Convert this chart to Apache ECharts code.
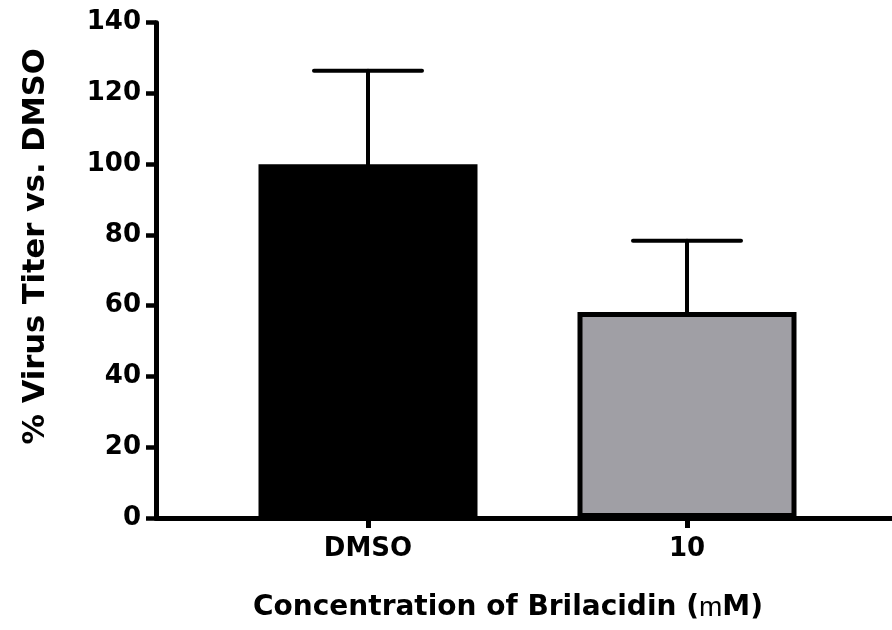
<!DOCTYPE html>
<html>
<head>
<meta charset="utf-8">
<script src="https://cdn.jsdelivr.net/npm/echarts@6/dist/echarts.min.js"></script>
<style>html,body{margin:0;padding:0;background:#fff;}#c{width:892px;height:630px;}</style>
</head>
<body>
<div id="c"></div>
<script>
const categories = ['DMSO', '10'];
const means = [100, 58.2];
const errors = [26.4, 20.2];
const barColors = ['#000000', '#A09FA5'];
const yTicks = {min: 0, max: 140, interval: 20};

const FONT = "'DejaVu Sans', 'Liberation Sans', Arial, sans-serif";
const chart = echarts.init(document.getElementById('c'), null, {renderer: 'canvas'});

const option = {
  backgroundColor: '#ffffff',
  animation: false,
  grid: [
    {left: 208.5, right: 45.5, top: 22.7, bottom: 112},
    {left: 156, right: 0, top: 22.7, bottom: 112}
  ],
  xAxis: [
    {
      type: 'category', gridIndex: 0, data: categories,
      axisLine: {show: false},
      axisTick: {show: true, alignWithLabel: true, length: 10, lineStyle: {width: 5, color: '#000'}},
      axisLabel: {margin: 18, color: '#000', fontSize: 26, fontWeight: 'bold', fontFamily: FONT},
      splitLine: {show: false}
    },
    {
      type: 'value', gridIndex: 1, min: 0, max: 1,
      axisLine: {show: true, lineStyle: {width: 5, color: '#000'}},
      axisTick: {show: false}, axisLabel: {show: false}, splitLine: {show: false},
      name: 'Concentration of Brilacidin ({m|m}M)',
      nameLocation: 'middle', nameGap: 76,
      nameTextStyle: {
        color: '#000', fontSize: 28, fontWeight: 'bold', fontFamily: FONT,
        padding: [0, 32, 0, 0],
        rich: {m: {fontSize: 28, fontWeight: 'normal', fontFamily: "'Liberation Sans', Arial, sans-serif", color: '#000'}}
      }
    }
  ],
  yAxis: [
    {
      type: 'value', gridIndex: 0, min: yTicks.min, max: yTicks.max, interval: yTicks.interval,
      offset: 52.5,
      axisLine: {show: true, lineStyle: {width: 5, color: '#000'}},
      axisTick: {show: true, length: 10, lineStyle: {width: 4.5, color: '#000'}},
      axisLabel: {margin: 15, color: '#000', fontSize: 26, fontWeight: 'bold', fontFamily: FONT},
      splitLine: {show: false},
      name: '% Virus Titer vs. DMSO',
      nameLocation: 'middle', nameGap: 104,
      nameTextStyle: {color: '#000', fontSize: 30.5, fontWeight: 'bold', fontFamily: FONT, padding: [0, 0, 0, 48]}
    },
    {
      type: 'value', gridIndex: 1, min: 0, max: 1, show: false
    }
  ],
  series: [
    {
      type: 'bar', xAxisIndex: 0, yAxisIndex: 0,
      barWidth: 219,
      data: means.map((v, i) => ({value: v, itemStyle: {color: barColors[i], borderColor: '#000', borderWidth: 5}})),
      z: 2
    },
    {
      type: 'custom', xAxisIndex: 0, yAxisIndex: 0, z: 3,
      data: means.map((v, i) => [i, v, v + errors[i]]),
      renderItem: function (params, api) {
        const base = api.coord([api.value(0), api.value(1)]);
        const top = api.coord([api.value(0), api.value(2)]);
        const half = 54;
        const style = {stroke: '#000', lineWidth: 4, lineCap: 'round'};
        return {
          type: 'group',
          children: [
            {type: 'line', shape: {x1: base[0], y1: base[1], x2: top[0], y2: top[1]}, style: style},
            {type: 'line', shape: {x1: top[0] - half, y1: top[1], x2: top[0] + half, y2: top[1]}, style: style}
          ]
        };
      }
    }
  ]
};
chart.setOption(option);
</script>
</body>
</html>
